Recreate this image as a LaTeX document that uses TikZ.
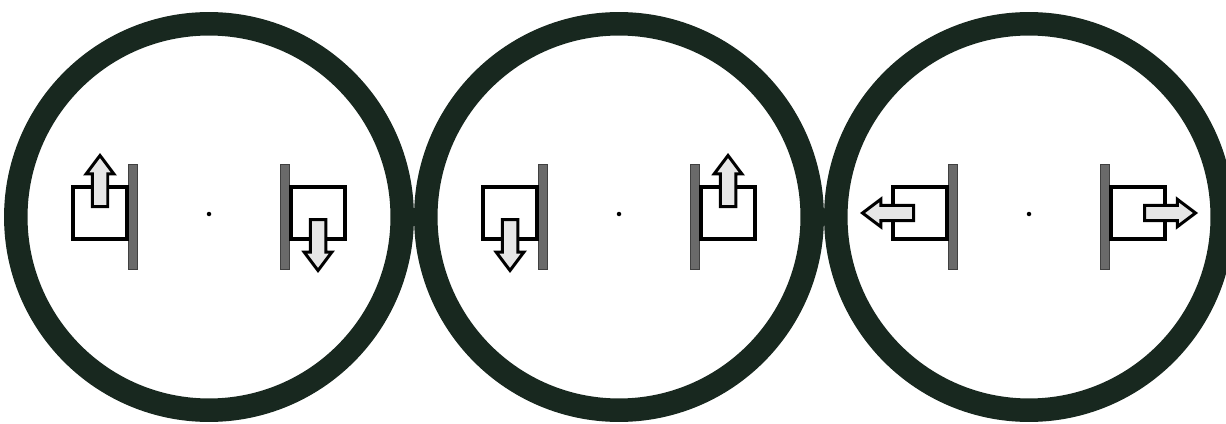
\documentclass[tikz,border=0pt]{standalone}
\usepackage{tikz}
\usetikzlibrary{calc}
\usetikzlibrary{positioning}
\usetikzlibrary{shapes}
\usetikzlibrary{shapes.arrows}
\definecolor{ringColor}{HTML}{18281F}
\definecolor{wallColor}{HTML}{6A6A6A}
\definecolor{flowColor}{HTML}{E6E6E6}

\begin{document}
\begin{tikzpicture}[
			x=0.02cm, y=0.02cm,
			ring/.style={circle, draw=ringColor, line width=0.47cm, minimum size=7.73cm, inner sep=0pt},
			wall/.style={rectangle, fill=wallColor, draw=black!75, line width=0.4pt, minimum width=0.17cm, minimum height=2.1cm, inner sep=0pt},
			box/.style={rectangle, draw=black, line width=0.075cm, minimum width=1.09cm, minimum height=1.05cm, inner sep=0pt},
			flow/.style={single arrow, draw=black, fill=flowColor, line width=0.06cm, inner xsep=0pt, inner ysep=0.125cm, minimum height=1.02cm, single arrow head extend=0.12cm, single arrow tip angle=74, anchor=tail},
			hub/.style={circle, fill=black, minimum size=0.09cm, inner sep=0pt},
			]
			\useasboundingbox (0,0) rectangle (1226,423);
			\foreach \i/\cx/\la/\ra in {1/209/90/-90, 2/619/-90/90, 3/1029/180/0} {
				\node[ring] (ring\i) at (\cx,206) {};
				\node[hub] (hub\i) at (\cx,209) {};
				\node[wall] (wallL\i) at (\cx-76,206) {};
				\node[wall] (wallR\i) at (\cx+76,206) {};
				\node[box] (boxL\i) at (\cx-109,210) {};
				\node[box] (boxR\i) at (\cx+109,210) {};
				\node[flow, rotate=\la] (flowL\i) at ([shift={(\la:5)}]boxL\i.center) {};
				\node[flow, rotate=\ra] (flowR\i) at ([shift={(\ra:5)}]boxR\i.center) {};
			}
		\end{tikzpicture}
\end{document}
